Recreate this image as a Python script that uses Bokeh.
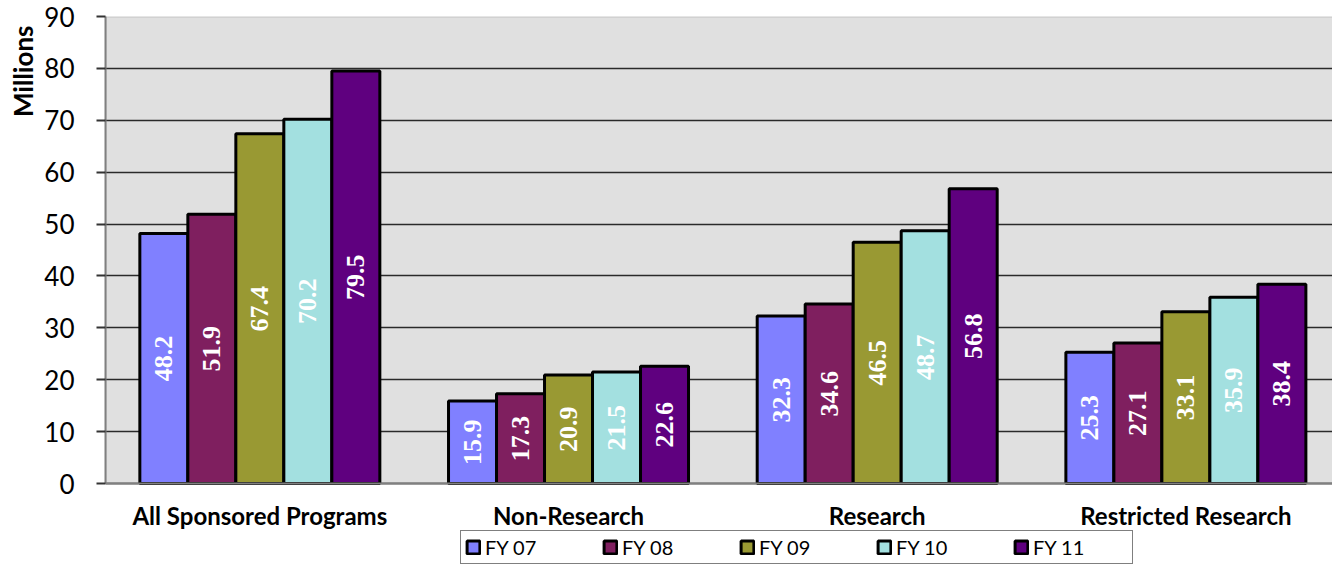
import math
from bokeh.plotting import figure
from bokeh.models import (ColumnDataSource, FixedTicker, Legend, LegendItem, Range1d,
                          BoxAnnotation, Title)
from bokeh.core.properties import value
from bokeh.embed import file_html
from bokeh.resources import INLINE

categories = ["All Sponsored Programs", "Non-Research", "Research", "Restricted Research"]
series_names = ["FY 07", "FY 08", "FY 09", "FY 10", "FY 11"]
fy07 = [48.2, 15.9, 32.3, 25.3]
fy08 = [51.9, 17.3, 34.6, 27.1]
fy09 = [67.4, 20.9, 46.5, 33.1]
fy10 = [70.2, 21.5, 48.7, 35.9]
fy11 = [79.5, 22.6, 56.8, 38.4]
series_values = [fy07, fy08, fy09, fy10, fy11]
colors = ["#8080FF", "#7F1F5F", "#999933", "#A3E0E0", "#5F007F"]
y_ticks = [0, 10, 20, 30, 40, 50, 60, 70, 80, 90]

W, H = 1332, 565
Y_MIN, Y_MAX = 0, 90
# the frame runs to the bottom of the canvas; the extra room below 0 holds
# the category labels and the legend
y_low = -(82 / 467) * Y_MAX

p = figure(width=W, height=H, output_backend="svg", toolbar_location=None,
           x_range=Range1d(0, 3.975), y_range=Range1d(y_low, Y_MAX))
p.min_border_left = 105
p.min_border_right = 0
p.min_border_top = 16
p.min_border_bottom = 0
p.background_fill_color = "white"
p.border_fill_color = "white"
p.outline_line_color = None

plot_area = BoxAnnotation(bottom=Y_MIN, top=Y_MAX, left=0, right=4,
                          fill_color="#E0E0E0", fill_alpha=1,
                          line_color="#808080", line_width=2, level="image")
p.add_layout(plot_area)

bw = 0.1555
items = []
for j, (name, vals, col) in enumerate(zip(series_names, series_values, colors)):
    xs = [i + 0.5 + (j - 2) * bw for i in range(len(categories))]
    src = ColumnDataSource(dict(x=xs, top=vals, mid=[v / 2 for v in vals],
                                lab=[f"{v:.1f}" for v in vals]))
    r = p.vbar(x="x", top="top", bottom=0, width=bw, source=src, fill_color=col,
               line_color="black", line_width=3)
    items.append(LegendItem(label=name, renderers=[r]))
    p.text(x="x", y="mid", text="lab", source=src, angle=math.pi / 2,
           text_align="center", text_baseline="middle", text_color="white",
           text_font=value("Liberation Serif"), text_font_style="bold",
           text_font_size="26px")

# axes
p.xgrid.visible = False
p.ygrid.grid_line_color = "#2a2a2a"
p.ygrid.grid_line_width = 1.5
p.ygrid.level = "underlay"
p.yaxis.ticker = FixedTicker(ticks=y_ticks)
p.yaxis.bounds = (Y_MIN, Y_MAX)
p.yaxis.major_label_text_font = "Lato"
p.yaxis.major_label_text_font_size = "26px"
p.yaxis.major_label_text_color = "black"
p.yaxis.major_tick_out = 9
p.yaxis.major_tick_in = 0
p.yaxis.major_tick_line_color = "#333333"
p.yaxis.major_tick_line_width = 2
p.yaxis.minor_tick_line_color = None
p.yaxis.axis_line_color = "#808080"
p.yaxis.axis_line_width = 2
p.yaxis.major_label_standoff = 22

ytitle = Title(text="Millions", align="right", text_font="Lato",
               text_font_style="bold", text_font_size="26px",
               text_color="black", offset=9, standoff=6)
p.add_layout(ytitle, "left")

p.xaxis.fixed_location = 0
p.xaxis.ticker = FixedTicker(ticks=[0.5, 1.5, 2.5, 3.5])
p.xaxis.major_label_overrides = {0.5: categories[0], 1.5: categories[1],
                                 2.5: categories[2], 3.5: categories[3]}
p.xaxis.major_label_text_font = "Lato"
p.xaxis.major_label_text_font_style = "bold"
p.xaxis.major_label_text_font_size = "24px"
p.xaxis.major_label_text_color = "black"
p.xaxis.major_tick_out = 0
p.xaxis.major_tick_in = 0
p.xaxis.minor_tick_line_color = None
p.xaxis.axis_line_color = "#808080"
p.xaxis.axis_line_width = 2
p.xaxis.major_label_standoff = 17

legend = Legend(items=items, orientation="horizontal", location=(355, 1),
                border_line_color="black", border_line_width=1.5,
                background_fill_color="white", background_fill_alpha=1,
                label_text_font="Lato", label_text_font_size="20px",
                label_text_color="black", glyph_width=16, glyph_height=16,
                label_standoff=4, spacing=22, padding=4, margin=0,
                label_width=95, label_height=20)
p.add_layout(legend, "center")

open("out.html", "w").write(file_html(p, INLINE))
